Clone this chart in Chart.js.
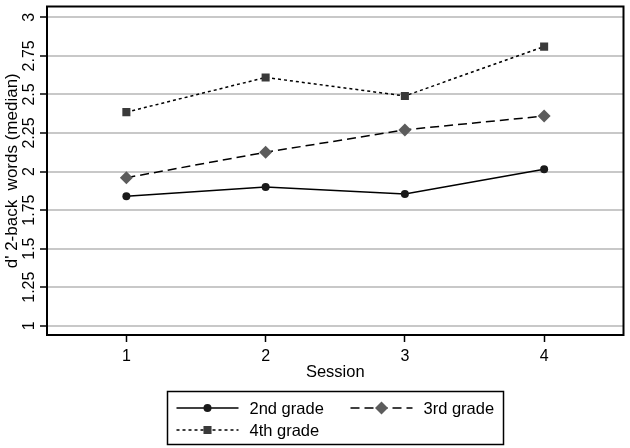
<!DOCTYPE html>
<html>
<head>
<meta charset="utf-8">
<script src="https://cdn.jsdelivr.net/npm/chart.js@4.4.1/dist/chart.umd.min.js"></script>
<style>
  html, body { margin: 0; padding: 0; background: #fff; }
</style>
</head>
<body>
<canvas id="lineChart" width="630" height="448"></canvas>
<script>
// data
var sessions = [1, 2, 3, 4];
var grade2 = [1.84, 1.90, 1.855, 2.015];
var grade3 = [1.96, 2.125, 2.27, 2.36];
var grade4 = [2.385, 2.61, 2.49, 2.81];
var yTicks = [1, 1.25, 1.5, 1.75, 2, 2.25, 2.5, 2.75, 3];
var seriesNames = ['2nd grade', '3rd grade', '4th grade'];

var FONT = "'Liberation Sans', Arial, Helvetica, sans-serif";
Chart.defaults.font.family = FONT;
Chart.defaults.color = '#000';

function points(values) {
    return sessions.map(function (s, i) { return { x: s, y: values[i] }; });
}

function marker(ctx, ds, x, y) {
    ctx.save();
    ctx.fillStyle = ds.pointBackgroundColor;
    ctx.strokeStyle = ds.pointBorderColor;
    if (Chart.helpers && Chart.helpers.drawPoint) {
        Chart.helpers.drawPoint(ctx, { pointStyle: ds.pointStyle, radius: ds.pointRadius, rotation: 0, borderWidth: ds.pointBorderWidth }, x, y);
    } else {
        ctx.beginPath();
        ctx.arc(x, y, ds.pointRadius, 0, Math.PI * 2);
        ctx.fill();
    }
    ctx.restore();
}

// black frame round the plot area
var framePlugin = {
    id: 'frame',
    beforeDatasetsDraw: function (chart) {
        var a = chart.chartArea, ctx = chart.ctx;
        ctx.save();
        ctx.strokeStyle = '#000';
        ctx.lineWidth = 2;
        ctx.strokeRect(a.left, a.top, a.right - a.left, a.bottom - a.top);
        ctx.restore();
    }
};

// boxed legend, two columns
var legendPlugin = {
    id: 'boxLegend',
    afterDraw: function (chart) {
        var ctx = chart.ctx, a = chart.chartArea;
        var boxW = 336, boxH = 53;
        var left = Math.round((a.left + a.right) / 2 - boxW / 2) + 0.5, top = 391.5;
        var slots = [{ dx: 9, dy: 16.5 }, { dx: 183, dy: 16.5 }, { dx: 9, dy: 38.5 }];
        ctx.save();
        ctx.strokeStyle = '#000';
        ctx.lineWidth = 1.5;
        ctx.strokeRect(left, top, boxW, boxH);
        ctx.font = '16.5px ' + FONT;
        ctx.fillStyle = '#000';
        ctx.textBaseline = 'middle';
        chart.data.datasets.forEach(function (ds, i) {
            var s = slots[i], x0 = left + s.dx, y = top + s.dy;
            ctx.strokeStyle = ds.borderColor;
            ctx.lineWidth = ds.borderWidth;
            ctx.setLineDash(ds.borderDash || []);
            ctx.beginPath();
            ctx.moveTo(x0, y);
            ctx.lineTo(x0 + 62, y);
            ctx.stroke();
            ctx.setLineDash([]);
            marker(ctx, ds, x0 + 31, y);
            ctx.fillStyle = '#000';
            ctx.fillText(ds.label, x0 + 73, y + 1);
        });
        ctx.restore();
    }
};

var graphTarget = document.getElementById('lineChart');

var lineGraph = new Chart(graphTarget, {
    type: 'line',
    data: {
        datasets: [
            {
                label: seriesNames[0],
                data: points(grade2),
                borderColor: '#000',
                borderWidth: 1.5,
                borderDash: [],
                pointStyle: 'circle',
                pointRadius: 4,
                pointBackgroundColor: '#1a1a1a',
                pointBorderColor: '#1a1a1a',
                pointBorderWidth: 0
            },
            {
                label: seriesNames[1],
                data: points(grade3),
                borderColor: '#000',
                borderWidth: 1.5,
                borderDash: [9, 5],
                pointStyle: 'rectRot',
                pointRadius: 6.5,
                pointBackgroundColor: '#5c5c5c',
                pointBorderColor: '#5c5c5c',
                pointBorderWidth: 0
            },
            {
                label: seriesNames[2],
                data: points(grade4),
                borderColor: '#000',
                borderWidth: 1.5,
                borderDash: [3, 3],
                pointStyle: 'rect',
                pointRadius: 5.7,
                pointBackgroundColor: '#3a3a3a',
                pointBorderColor: '#3a3a3a',
                pointBorderWidth: 0
            }
        ]
    },
    options: {
        responsive: false,
        animation: false,
        layout: { padding: { top: 3, right: 4, bottom: 63, left: 0 } },
        plugins: { legend: { display: false }, tooltip: { enabled: false } },
        elements: { line: { tension: 0 } },
        scales: {
            x: {
                type: 'linear',
                min: 0.43,
                max: 4.57,
                afterBuildTicks: function (s) { s.ticks = sessions.map(function (v) { return { value: v }; }); },
                afterFit: function (s) { s.height = 50; },
                border: { display: false },
                grid: { drawOnChartArea: false, drawTicks: true, tickLength: 7, tickColor: '#000', tickWidth: 1.5 },
                ticks: { autoSkip: false, maxRotation: 0, padding: 5, font: { size: 16 }, color: '#000',
                    callback: function (v) { return String(v); } },
                title: { display: true, text: 'Session', color: '#000', font: { size: 16.5 }, padding: { top: 0, bottom: 3 } }
            },
            y: {
                type: 'linear',
                min: 0.94,
                max: 3.07,
                afterBuildTicks: function (s) { s.ticks = yTicks.map(function (v) { return { value: v }; }); },
                afterFit: function (s) { s.width = 47; },
                border: { display: false },
                grid: { color: '#c8c8c8', lineWidth: 2, drawTicks: true, tickLength: 7, tickColor: '#000', tickWidth: 1.5 },
                ticks: { autoSkip: false, minRotation: 90, maxRotation: 90, crossAlign: 'center', padding: -5,
                    font: { size: 16 }, color: '#000',
                    callback: function (v) { return String(+v.toFixed(2)); } },
                title: { display: true, text: "d' 2-back  words (median)", color: '#000', font: { size: 17 }, padding: { top: 2, bottom: 0 } }
            }
        }
    },
    plugins: [framePlugin, legendPlugin]
});
</script>
</body>
</html>
